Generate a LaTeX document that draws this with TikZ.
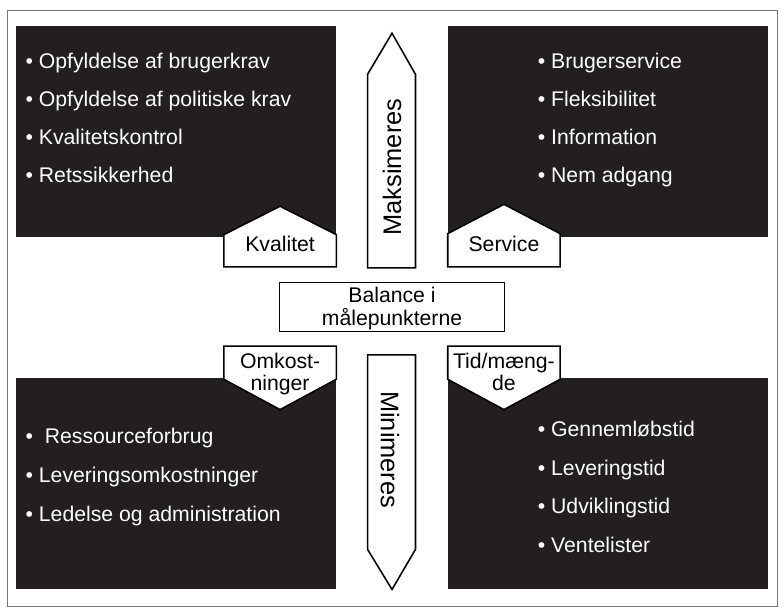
\documentclass[tikz,border=0pt]{standalone}
\usepackage{fontspec}
\setmainfont{Liberation Sans}
\definecolor{boxblack}{RGB}{35,31,32}
\definecolor{framegray}{RGB}{120,120,120}
\begin{document}
\begin{tikzpicture}[x=1pt,y=-1pt,
  txt/.style={font=\fontsize{21.7}{26}\selectfont, inner sep=0pt},
  wtxt/.style={txt, text=white, anchor=base west},
  ctxt/.style={txt, anchor=base},
  vtxt/.style={font=\fontsize{26}{30}\selectfont, inner sep=0pt, anchor=center},
  darkbox/.style={fill=boxblack},
  outl/.style={draw=black, fill=white, line width=1.6pt, line join=miter},
  framestyle/.style={draw=framegray, line width=1.2pt}]
\useasboundingbox (0,0) rectangle (802,630);
\clip (0,0) rectangle (802,630);
\fill[white] (0,0) rectangle (802,630);
\draw[framestyle] (8,11) rectangle (795,620);
% black boxes
\fill[darkbox] (16,27) rectangle (344,242);
\fill[darkbox] (458,27) rectangle (786,242);
\fill[darkbox] (16,387) rectangle (344,602);
\fill[darkbox] (458,387) rectangle (786,602);
% arrows
\draw[outl] (376,274) -- (376,76) -- (401,34) -- (425,76) -- (425,274) -- cycle;
\draw[outl] (376,363) -- (425,363) -- (425,562) -- (401,603) -- (376,562) -- cycle;
% pentagons
\draw[outl] (229,273) -- (229,240) -- (286.5,211) -- (344,240) -- (344,273) -- cycle;
\draw[outl] (458,273) -- (458,239) -- (515.5,209) -- (573,239) -- (573,273) -- cycle;
\draw[outl] (229,354) -- (344,354) -- (344,388) -- (286.5,419) -- (229,388) -- cycle;
\draw[outl] (458,354) -- (573,354) -- (573,388) -- (515.5,419) -- (458,388) -- cycle;
% center box
\draw[draw=black, fill=white, line width=1.4pt] (286,289) rectangle (516,339);
% texts top-left
\node[wtxt] (tl1) at (26,70) {• Opfyldelse af brugerkrav};
\node[wtxt] (tl2) at (26,109) {• Opfyldelse af politiske krav};
\node[wtxt] (tl3) at (26,148) {• Kvalitetskontrol};
\node[wtxt] (tl4) at (26,187) {• Retssikkerhed};
% top-right
\node[wtxt] (tr1) at (550,70) {• Brugerservice};
\node[wtxt] (tr2) at (550,109) {• Fleksibilitet};
\node[wtxt] (tr3) at (550,148) {• Information};
\node[wtxt] (tr4) at (550,187) {• Nem adgang};
% bottom-left
\node[wtxt] (bl1) at (26,454) {•\ \ Ressourceforbrug};
\node[wtxt] (bl2) at (26,494) {• Leveringsomkostninger};
\node[wtxt] (bl3) at (26,533) {• Ledelse og administration};
% bottom-right
\node[wtxt] (br1) at (550,447) {• Gennemløbstid};
\node[wtxt] (br2) at (550,486) {• Leveringstid};
\node[wtxt] (br3) at (550,525) {• Udviklingstid};
\node[wtxt] (br4) at (550,565) {• Ventelister};
% labels
\node[ctxt] (kval) at (286.5,257) {Kvalitet};
\node[ctxt] (serv) at (515.5,257) {Service};
\node[ctxt] (omk1) at (286.5,377) {Omkost-};
\node[ctxt] (omk2) at (286.5,399) {ninger};
\node[ctxt] (tid1) at (515.5,377) {Tid/mæng-};
\node[ctxt] (tid2) at (515.5,399) {de};
\node[ctxt] (bal1) at (401,309) {Balance i};
\node[ctxt] (bal2) at (401,333) {målepunkterne};
\node[vtxt, rotate=90] (maks) at (401,171) {Maksimeres};
\node[vtxt, rotate=-90] (mini) at (399,460) {Minimeres};
\end{tikzpicture}
\end{document}
